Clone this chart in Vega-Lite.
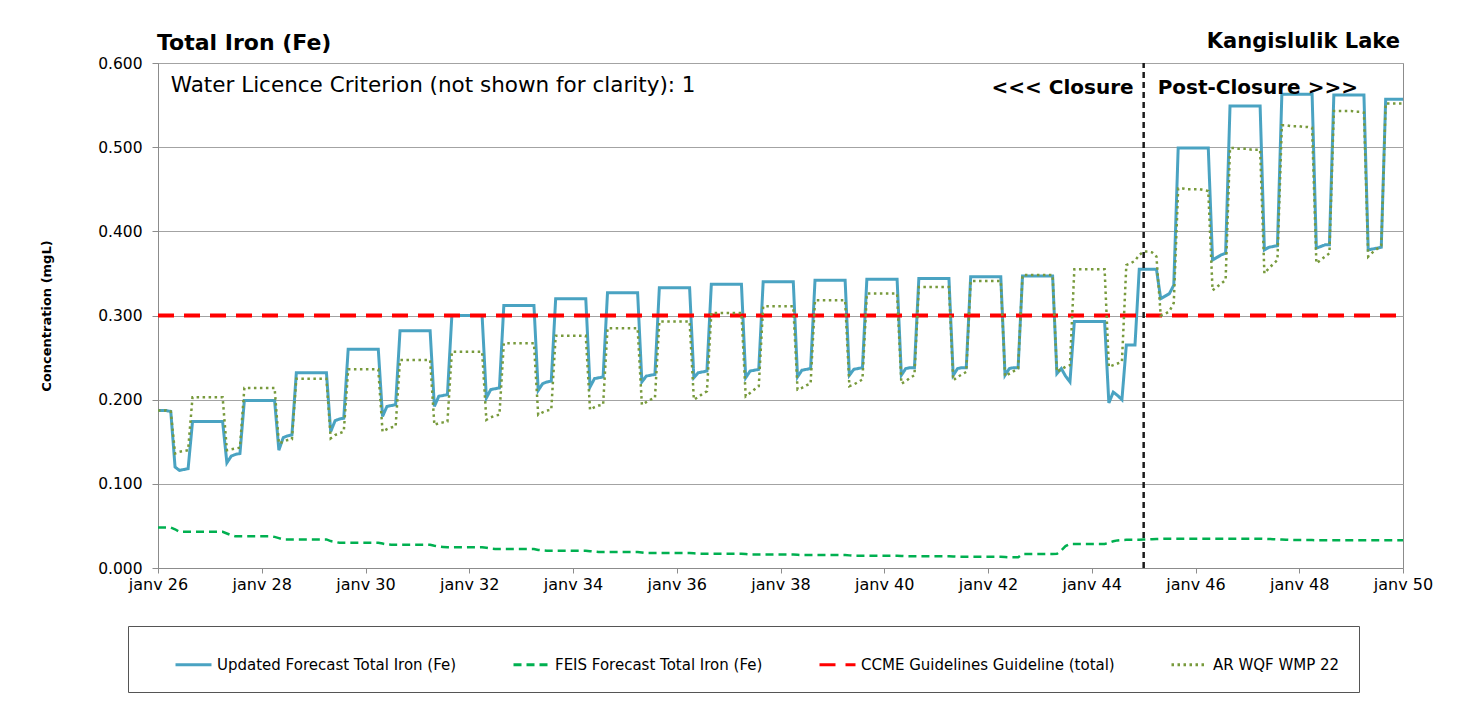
{
"$schema": "https://vega.github.io/schema/vega-lite/v6.json",
"width": 1245, "height": 505,
"autosize": {"type": "none"},
"padding": {"left": 158, "top": 63, "right": 54, "bottom": 145},
"background": "white",
"config": {"font": "DejaVu Sans", "view": {"stroke": "#8c8c8c", "strokeWidth": 1}},
"data": {"values": [
{"d":"2026-01-01","u":0.187,"a":0.187,"f":0.048},
{"d":"2026-02-01","u":0.187,"a":0.187,"f":0.048},
{"d":"2026-03-01","u":0.187,"a":0.187,"f":0.048},
{"d":"2026-04-01","u":0.186,"a":0.186,"f":0.048},
{"d":"2026-05-01","u":0.120,"a":0.136,"f":0.046},
{"d":"2026-06-01","u":0.116,"a":0.138,"f":0.043},
{"d":"2026-07-01","u":0.117,"a":0.139,"f":0.043},
{"d":"2026-08-01","u":0.118,"a":0.140,"f":0.043},
{"d":"2026-09-01","u":0.174,"a":0.203,"f":0.043},
{"d":"2026-10-01","u":0.174,"a":0.203,"f":0.043},
{"d":"2026-11-01","u":0.174,"a":0.203,"f":0.043},
{"d":"2026-12-01","u":0.174,"a":0.203,"f":0.043},
{"d":"2027-01-01","u":0.174,"a":0.203,"f":0.043},
{"d":"2027-02-01","u":0.174,"a":0.203,"f":0.043},
{"d":"2027-03-01","u":0.174,"a":0.203,"f":0.043},
{"d":"2027-04-01","u":0.174,"a":0.203,"f":0.043},
{"d":"2027-05-01","u":0.125,"a":0.140,"f":0.041},
{"d":"2027-06-01","u":0.133,"a":0.141,"f":0.039},
{"d":"2027-07-01","u":0.135,"a":0.142,"f":0.0376},
{"d":"2027-08-01","u":0.136,"a":0.143,"f":0.0376},
{"d":"2027-09-01","u":0.199,"a":0.214,"f":0.0376},
{"d":"2027-10-01","u":0.199,"a":0.214,"f":0.0376},
{"d":"2027-11-01","u":0.199,"a":0.214,"f":0.0376},
{"d":"2027-12-01","u":0.199,"a":0.214,"f":0.0376},
{"d":"2028-01-01","u":0.199,"a":0.214,"f":0.0376},
{"d":"2028-02-01","u":0.199,"a":0.214,"f":0.0376},
{"d":"2028-03-01","u":0.199,"a":0.214,"f":0.0376},
{"d":"2028-04-01","u":0.199,"a":0.214,"f":0.037},
{"d":"2028-05-01","u":0.140,"a":0.148,"f":0.0355},
{"d":"2028-06-01","u":0.155,"a":0.150,"f":0.034},
{"d":"2028-07-01","u":0.157,"a":0.152,"f":0.034},
{"d":"2028-08-01","u":0.158,"a":0.153,"f":0.034},
{"d":"2028-09-01","u":0.232,"a":0.225,"f":0.034},
{"d":"2028-10-01","u":0.232,"a":0.225,"f":0.034},
{"d":"2028-11-01","u":0.232,"a":0.225,"f":0.034},
{"d":"2028-12-01","u":0.232,"a":0.225,"f":0.034},
{"d":"2029-01-01","u":0.232,"a":0.225,"f":0.034},
{"d":"2029-02-01","u":0.232,"a":0.225,"f":0.034},
{"d":"2029-03-01","u":0.232,"a":0.225,"f":0.034},
{"d":"2029-04-01","u":0.232,"a":0.225,"f":0.034},
{"d":"2029-05-01","u":0.162,"a":0.154,"f":0.032},
{"d":"2029-06-01","u":0.175,"a":0.158,"f":0.031},
{"d":"2029-07-01","u":0.177,"a":0.160,"f":0.030},
{"d":"2029-08-01","u":0.178,"a":0.162,"f":0.030},
{"d":"2029-09-01","u":0.260,"a":0.236,"f":0.030},
{"d":"2029-10-01","u":0.260,"a":0.236,"f":0.030},
{"d":"2029-11-01","u":0.260,"a":0.236,"f":0.030},
{"d":"2029-12-01","u":0.260,"a":0.236,"f":0.030},
{"d":"2030-01-01","u":0.260,"a":0.236,"f":0.030},
{"d":"2030-02-01","u":0.260,"a":0.236,"f":0.030},
{"d":"2030-03-01","u":0.260,"a":0.236,"f":0.030},
{"d":"2030-04-01","u":0.260,"a":0.236,"f":0.030},
{"d":"2030-05-01","u":0.180,"a":0.162,"f":0.029},
{"d":"2030-06-01","u":0.192,"a":0.165,"f":0.028},
{"d":"2030-07-01","u":0.193,"a":0.167,"f":0.0277},
{"d":"2030-08-01","u":0.194,"a":0.168,"f":0.0277},
{"d":"2030-09-01","u":0.282,"a":0.247,"f":0.0277},
{"d":"2030-10-01","u":0.282,"a":0.247,"f":0.0277},
{"d":"2030-11-01","u":0.282,"a":0.247,"f":0.0277},
{"d":"2030-12-01","u":0.282,"a":0.247,"f":0.0277},
{"d":"2031-01-01","u":0.282,"a":0.247,"f":0.0277},
{"d":"2031-02-01","u":0.282,"a":0.247,"f":0.0277},
{"d":"2031-03-01","u":0.282,"a":0.247,"f":0.0277},
{"d":"2031-04-01","u":0.282,"a":0.247,"f":0.0277},
{"d":"2031-05-01","u":0.192,"a":0.170,"f":0.0265},
{"d":"2031-06-01","u":0.204,"a":0.172,"f":0.0255},
{"d":"2031-07-01","u":0.205,"a":0.173,"f":0.025},
{"d":"2031-08-01","u":0.206,"a":0.174,"f":0.0246},
{"d":"2031-09-01","u":0.300,"a":0.257,"f":0.0246},
{"d":"2031-10-01","u":0.300,"a":0.257,"f":0.0246},
{"d":"2031-11-01","u":0.300,"a":0.257,"f":0.0246},
{"d":"2031-12-01","u":0.300,"a":0.257,"f":0.0246},
{"d":"2032-01-01","u":0.300,"a":0.257,"f":0.0246},
{"d":"2032-02-01","u":0.300,"a":0.257,"f":0.0246},
{"d":"2032-03-01","u":0.300,"a":0.257,"f":0.0246},
{"d":"2032-04-01","u":0.300,"a":0.257,"f":0.0246},
{"d":"2032-05-01","u":0.202,"a":0.176,"f":0.024},
{"d":"2032-06-01","u":0.212,"a":0.179,"f":0.023},
{"d":"2032-07-01","u":0.213,"a":0.181,"f":0.0226},
{"d":"2032-08-01","u":0.214,"a":0.182,"f":0.0226},
{"d":"2032-09-01","u":0.312,"a":0.267,"f":0.0226},
{"d":"2032-10-01","u":0.312,"a":0.267,"f":0.0226},
{"d":"2032-11-01","u":0.312,"a":0.267,"f":0.0226},
{"d":"2032-12-01","u":0.312,"a":0.267,"f":0.0226},
{"d":"2033-01-01","u":0.312,"a":0.267,"f":0.0226},
{"d":"2033-02-01","u":0.312,"a":0.267,"f":0.0226},
{"d":"2033-03-01","u":0.312,"a":0.267,"f":0.0226},
{"d":"2033-04-01","u":0.312,"a":0.267,"f":0.0226},
{"d":"2033-05-01","u":0.211,"a":0.182,"f":0.0215},
{"d":"2033-06-01","u":0.219,"a":0.185,"f":0.021},
{"d":"2033-07-01","u":0.221,"a":0.187,"f":0.0206},
{"d":"2033-08-01","u":0.222,"a":0.188,"f":0.0206},
{"d":"2033-09-01","u":0.320,"a":0.276,"f":0.0206},
{"d":"2033-10-01","u":0.320,"a":0.276,"f":0.0206},
{"d":"2033-11-01","u":0.320,"a":0.276,"f":0.0206},
{"d":"2033-12-01","u":0.320,"a":0.276,"f":0.0206},
{"d":"2034-01-01","u":0.320,"a":0.276,"f":0.0206},
{"d":"2034-02-01","u":0.320,"a":0.276,"f":0.0206},
{"d":"2034-03-01","u":0.320,"a":0.276,"f":0.0206},
{"d":"2034-04-01","u":0.320,"a":0.276,"f":0.0206},
{"d":"2034-05-01","u":0.215,"a":0.188,"f":0.020},
{"d":"2034-06-01","u":0.225,"a":0.191,"f":0.0195},
{"d":"2034-07-01","u":0.226,"a":0.193,"f":0.019},
{"d":"2034-08-01","u":0.227,"a":0.194,"f":0.019},
{"d":"2034-09-01","u":0.327,"a":0.285,"f":0.019},
{"d":"2034-10-01","u":0.327,"a":0.285,"f":0.019},
{"d":"2034-11-01","u":0.327,"a":0.285,"f":0.019},
{"d":"2034-12-01","u":0.327,"a":0.285,"f":0.019},
{"d":"2035-01-01","u":0.327,"a":0.285,"f":0.019},
{"d":"2035-02-01","u":0.327,"a":0.285,"f":0.019},
{"d":"2035-03-01","u":0.327,"a":0.285,"f":0.019},
{"d":"2035-04-01","u":0.327,"a":0.285,"f":0.019},
{"d":"2035-05-01","u":0.221,"a":0.194,"f":0.0185},
{"d":"2035-06-01","u":0.228,"a":0.197,"f":0.0178},
{"d":"2035-07-01","u":0.229,"a":0.200,"f":0.0178},
{"d":"2035-08-01","u":0.230,"a":0.202,"f":0.0178},
{"d":"2035-09-01","u":0.333,"a":0.293,"f":0.0178},
{"d":"2035-10-01","u":0.333,"a":0.293,"f":0.0178},
{"d":"2035-11-01","u":0.333,"a":0.293,"f":0.0178},
{"d":"2035-12-01","u":0.333,"a":0.293,"f":0.0178},
{"d":"2036-01-01","u":0.333,"a":0.293,"f":0.0178},
{"d":"2036-02-01","u":0.333,"a":0.293,"f":0.0178},
{"d":"2036-03-01","u":0.333,"a":0.293,"f":0.0178},
{"d":"2036-04-01","u":0.333,"a":0.293,"f":0.0178},
{"d":"2036-05-01","u":0.226,"a":0.200,"f":0.0174},
{"d":"2036-06-01","u":0.232,"a":0.203,"f":0.017},
{"d":"2036-07-01","u":0.233,"a":0.207,"f":0.017},
{"d":"2036-08-01","u":0.234,"a":0.210,"f":0.017},
{"d":"2036-09-01","u":0.337,"a":0.303,"f":0.017},
{"d":"2036-10-01","u":0.337,"a":0.303,"f":0.017},
{"d":"2036-11-01","u":0.337,"a":0.303,"f":0.017},
{"d":"2036-12-01","u":0.337,"a":0.303,"f":0.017},
{"d":"2037-01-01","u":0.337,"a":0.303,"f":0.017},
{"d":"2037-02-01","u":0.337,"a":0.303,"f":0.017},
{"d":"2037-03-01","u":0.337,"a":0.303,"f":0.017},
{"d":"2037-04-01","u":0.337,"a":0.303,"f":0.017},
{"d":"2037-05-01","u":0.226,"a":0.204,"f":0.0165},
{"d":"2037-06-01","u":0.234,"a":0.208,"f":0.016},
{"d":"2037-07-01","u":0.235,"a":0.212,"f":0.016},
{"d":"2037-08-01","u":0.236,"a":0.216,"f":0.016},
{"d":"2037-09-01","u":0.340,"a":0.311,"f":0.016},
{"d":"2037-10-01","u":0.340,"a":0.311,"f":0.016},
{"d":"2037-11-01","u":0.340,"a":0.311,"f":0.016},
{"d":"2037-12-01","u":0.340,"a":0.311,"f":0.016},
{"d":"2038-01-01","u":0.340,"a":0.311,"f":0.016},
{"d":"2038-02-01","u":0.340,"a":0.311,"f":0.016},
{"d":"2038-03-01","u":0.340,"a":0.311,"f":0.016},
{"d":"2038-04-01","u":0.340,"a":0.311,"f":0.016},
{"d":"2038-05-01","u":0.227,"a":0.212,"f":0.0156},
{"d":"2038-06-01","u":0.235,"a":0.214,"f":0.0153},
{"d":"2038-07-01","u":0.236,"a":0.217,"f":0.0153},
{"d":"2038-08-01","u":0.237,"a":0.219,"f":0.0153},
{"d":"2038-09-01","u":0.342,"a":0.318,"f":0.0153},
{"d":"2038-10-01","u":0.342,"a":0.318,"f":0.0153},
{"d":"2038-11-01","u":0.342,"a":0.318,"f":0.0153},
{"d":"2038-12-01","u":0.342,"a":0.318,"f":0.0153},
{"d":"2039-01-01","u":0.342,"a":0.318,"f":0.0153},
{"d":"2039-02-01","u":0.342,"a":0.318,"f":0.0153},
{"d":"2039-03-01","u":0.342,"a":0.318,"f":0.0153},
{"d":"2039-04-01","u":0.342,"a":0.318,"f":0.0153},
{"d":"2039-05-01","u":0.229,"a":0.216,"f":0.015},
{"d":"2039-06-01","u":0.236,"a":0.218,"f":0.0146},
{"d":"2039-07-01","u":0.237,"a":0.221,"f":0.0146},
{"d":"2039-08-01","u":0.238,"a":0.224,"f":0.0146},
{"d":"2039-09-01","u":0.343,"a":0.326,"f":0.0146},
{"d":"2039-10-01","u":0.343,"a":0.326,"f":0.0146},
{"d":"2039-11-01","u":0.343,"a":0.326,"f":0.0146},
{"d":"2039-12-01","u":0.343,"a":0.326,"f":0.0146},
{"d":"2040-01-01","u":0.343,"a":0.326,"f":0.0146},
{"d":"2040-02-01","u":0.343,"a":0.326,"f":0.0146},
{"d":"2040-03-01","u":0.343,"a":0.326,"f":0.0146},
{"d":"2040-04-01","u":0.343,"a":0.326,"f":0.0146},
{"d":"2040-05-01","u":0.229,"a":0.219,"f":0.0143},
{"d":"2040-06-01","u":0.237,"a":0.222,"f":0.014},
{"d":"2040-07-01","u":0.238,"a":0.226,"f":0.014},
{"d":"2040-08-01","u":0.238,"a":0.229,"f":0.014},
{"d":"2040-09-01","u":0.344,"a":0.334,"f":0.014},
{"d":"2040-10-01","u":0.344,"a":0.334,"f":0.014},
{"d":"2040-11-01","u":0.344,"a":0.334,"f":0.014},
{"d":"2040-12-01","u":0.344,"a":0.334,"f":0.014},
{"d":"2041-01-01","u":0.344,"a":0.334,"f":0.014},
{"d":"2041-02-01","u":0.344,"a":0.334,"f":0.014},
{"d":"2041-03-01","u":0.344,"a":0.334,"f":0.014},
{"d":"2041-04-01","u":0.344,"a":0.334,"f":0.014},
{"d":"2041-05-01","u":0.229,"a":0.223,"f":0.0137},
{"d":"2041-06-01","u":0.237,"a":0.227,"f":0.0134},
{"d":"2041-07-01","u":0.238,"a":0.230,"f":0.0134},
{"d":"2041-08-01","u":0.238,"a":0.233,"f":0.0134},
{"d":"2041-09-01","u":0.346,"a":0.341,"f":0.0134},
{"d":"2041-10-01","u":0.346,"a":0.341,"f":0.0134},
{"d":"2041-11-01","u":0.346,"a":0.341,"f":0.0134},
{"d":"2041-12-01","u":0.346,"a":0.341,"f":0.0134},
{"d":"2042-01-01","u":0.346,"a":0.341,"f":0.0134},
{"d":"2042-02-01","u":0.346,"a":0.341,"f":0.0134},
{"d":"2042-03-01","u":0.346,"a":0.341,"f":0.0134},
{"d":"2042-04-01","u":0.346,"a":0.341,"f":0.0134},
{"d":"2042-05-01","u":0.229,"a":0.228,"f":0.013},
{"d":"2042-06-01","u":0.237,"a":0.231,"f":0.0127},
{"d":"2042-07-01","u":0.238,"a":0.234,"f":0.0127},
{"d":"2042-08-01","u":0.238,"a":0.237,"f":0.0127},
{"d":"2042-09-01","u":0.347,"a":0.348,"f":0.0166},
{"d":"2042-10-01","u":0.347,"a":0.348,"f":0.0166},
{"d":"2042-11-01","u":0.347,"a":0.348,"f":0.0166},
{"d":"2042-12-01","u":0.347,"a":0.348,"f":0.0166},
{"d":"2043-01-01","u":0.347,"a":0.348,"f":0.0166},
{"d":"2043-02-01","u":0.347,"a":0.348,"f":0.0166},
{"d":"2043-03-01","u":0.347,"a":0.348,"f":0.0166},
{"d":"2043-04-01","u":0.347,"a":0.348,"f":0.0166},
{"d":"2043-05-01","u":0.231,"a":0.233,"f":0.0168},
{"d":"2043-06-01","u":0.237,"a":0.236,"f":0.021},
{"d":"2043-07-01","u":0.228,"a":0.239,"f":0.026},
{"d":"2043-08-01","u":0.221,"a":0.241,"f":0.0285},
{"d":"2043-09-01","u":0.293,"a":0.355,"f":0.0285},
{"d":"2043-10-01","u":0.293,"a":0.355,"f":0.0285},
{"d":"2043-11-01","u":0.293,"a":0.355,"f":0.0285},
{"d":"2043-12-01","u":0.293,"a":0.355,"f":0.0285},
{"d":"2044-01-01","u":0.293,"a":0.355,"f":0.0285},
{"d":"2044-02-01","u":0.293,"a":0.355,"f":0.0285},
{"d":"2044-03-01","u":0.293,"a":0.355,"f":0.0285},
{"d":"2044-04-01","u":0.293,"a":0.355,"f":0.0285},
{"d":"2044-05-01","u":0.196,"a":0.239,"f":0.030},
{"d":"2044-06-01","u":0.209,"a":0.241,"f":0.0318},
{"d":"2044-07-01","u":0.205,"a":0.243,"f":0.0328},
{"d":"2044-08-01","u":0.200,"a":0.245,"f":0.0333},
{"d":"2044-09-01","u":0.265,"a":0.360,"f":0.0335},
{"d":"2044-10-01","u":0.265,"a":0.362,"f":0.0335},
{"d":"2044-11-01","u":0.265,"a":0.365,"f":0.0335},
{"d":"2044-12-01","u":0.355,"a":0.372,"f":0.0335},
{"d":"2045-01-01","u":0.355,"a":0.376,"f":0.0338},
{"d":"2045-02-01","u":0.355,"a":0.376,"f":0.034},
{"d":"2045-03-01","u":0.355,"a":0.375,"f":0.0342},
{"d":"2045-04-01","u":0.355,"a":0.370,"f":0.0344},
{"d":"2045-05-01","u":0.320,"a":0.300,"f":0.0346},
{"d":"2045-06-01","u":0.323,"a":0.302,"f":0.0348},
{"d":"2045-07-01","u":0.326,"a":0.305,"f":0.0348},
{"d":"2045-08-01","u":0.336,"a":0.315,"f":0.0348},
{"d":"2045-09-01","u":0.499,"a":0.451,"f":0.0348},
{"d":"2045-10-01","u":0.499,"a":0.451,"f":0.0348},
{"d":"2045-11-01","u":0.499,"a":0.450,"f":0.0348},
{"d":"2045-12-01","u":0.499,"a":0.450,"f":0.0348},
{"d":"2046-01-01","u":0.499,"a":0.450,"f":0.0349},
{"d":"2046-02-01","u":0.499,"a":0.450,"f":0.0349},
{"d":"2046-03-01","u":0.499,"a":0.449,"f":0.0349},
{"d":"2046-04-01","u":0.499,"a":0.448,"f":0.0349},
{"d":"2046-05-01","u":0.366,"a":0.330,"f":0.0349},
{"d":"2046-06-01","u":0.369,"a":0.334,"f":0.0349},
{"d":"2046-07-01","u":0.372,"a":0.338,"f":0.0349},
{"d":"2046-08-01","u":0.374,"a":0.342,"f":0.0349},
{"d":"2046-09-01","u":0.549,"a":0.499,"f":0.0349},
{"d":"2046-10-01","u":0.549,"a":0.499,"f":0.0349},
{"d":"2046-11-01","u":0.549,"a":0.498,"f":0.0349},
{"d":"2046-12-01","u":0.549,"a":0.498,"f":0.0349},
{"d":"2047-01-01","u":0.549,"a":0.498,"f":0.0349},
{"d":"2047-02-01","u":0.549,"a":0.497,"f":0.0349},
{"d":"2047-03-01","u":0.549,"a":0.497,"f":0.0349},
{"d":"2047-04-01","u":0.549,"a":0.497,"f":0.0349},
{"d":"2047-05-01","u":0.378,"a":0.350,"f":0.0347},
{"d":"2047-06-01","u":0.381,"a":0.356,"f":0.0345},
{"d":"2047-07-01","u":0.382,"a":0.361,"f":0.0343},
{"d":"2047-08-01","u":0.383,"a":0.366,"f":0.034},
{"d":"2047-09-01","u":0.563,"a":0.526,"f":0.0338},
{"d":"2047-10-01","u":0.563,"a":0.526,"f":0.0336},
{"d":"2047-11-01","u":0.563,"a":0.525,"f":0.0334},
{"d":"2047-12-01","u":0.563,"a":0.525,"f":0.0333},
{"d":"2048-01-01","u":0.563,"a":0.525,"f":0.0332},
{"d":"2048-02-01","u":0.563,"a":0.524,"f":0.0332},
{"d":"2048-03-01","u":0.563,"a":0.524,"f":0.0332},
{"d":"2048-04-01","u":0.563,"a":0.523,"f":0.0332},
{"d":"2048-05-01","u":0.380,"a":0.362,"f":0.033},
{"d":"2048-06-01","u":0.382,"a":0.366,"f":0.033},
{"d":"2048-07-01","u":0.384,"a":0.370,"f":0.033},
{"d":"2048-08-01","u":0.384,"a":0.374,"f":0.033},
{"d":"2048-09-01","u":0.562,"a":0.543,"f":0.033},
{"d":"2048-10-01","u":0.562,"a":0.543,"f":0.033},
{"d":"2048-11-01","u":0.562,"a":0.543,"f":0.033},
{"d":"2048-12-01","u":0.562,"a":0.543,"f":0.033},
{"d":"2049-01-01","u":0.562,"a":0.543,"f":0.033},
{"d":"2049-02-01","u":0.562,"a":0.542,"f":0.033},
{"d":"2049-03-01","u":0.562,"a":0.542,"f":0.033},
{"d":"2049-04-01","u":0.562,"a":0.541,"f":0.033},
{"d":"2049-05-01","u":0.378,"a":0.370,"f":0.033},
{"d":"2049-06-01","u":0.379,"a":0.375,"f":0.033},
{"d":"2049-07-01","u":0.380,"a":0.379,"f":0.033},
{"d":"2049-08-01","u":0.381,"a":0.383,"f":0.033},
{"d":"2049-09-01","u":0.557,"a":0.552,"f":0.033},
{"d":"2049-10-01","u":0.557,"a":0.552,"f":0.033},
{"d":"2049-11-01","u":0.557,"a":0.552,"f":0.033},
{"d":"2049-12-01","u":0.557,"a":0.552,"f":0.033},
{"d":"2050-01-01","u":0.557,"a":0.552,"f":0.0329}
]},
"encoding": {
  "x": {"field": "d", "type": "temporal",
        "scale": {"type": "utc", "domain": [{"year": 2026, "month": 1, "date": 1, "utc": true}, {"year": 2050, "month": 1, "date": 1, "utc": true}]},
        "axis": {"title": null, "grid": false, "tickCount": {"interval": "year", "step": 2},
                 "labelExpr": "'janv ' + utcFormat(datum.value, '%y')",
                 "labelFontSize": 16, "labelColor": "black", "labelPadding": 3, "labelFlush": false, "labelOverlap": false,
                 "tickSize": 5, "tickColor": "#8c8c8c", "domainColor": "#8c8c8c"}},
  "y": {"field": "v", "type": "quantitative",
        "scale": {"domain": [0, 0.6], "nice": false, "zero": true},
        "axis": {"title": "Concentration (mgL)", "titleFontSize": 13, "titleFontWeight": "bold", "titleColor": "black", "titlePadding": 44,
                 "values": [0, 0.1, 0.2, 0.3, 0.4, 0.5, 0.6], "format": ".3f",
                 "labelFontSize": 15.5, "labelColor": "black", "labelPadding": 10,
                 "tickSize": 6, "tickColor": "#8c8c8c", "domainColor": "#8c8c8c", "gridColor": "#a3a3a3", "gridWidth": 1}}
},
"layer": [
  {
    "encoding": {
      "color": {"field": "s", "type": "nominal",
        "scale": {"domain": ["u", "f", "c", "a"], "range": ["#4aa3c2", "#00b050", "#ff0000", "#789a3c"]},
        "legend": {"orient": "none", "legendX": -30, "legendY": 563, "direction": "horizontal",
                   "title": " ", "titleOrient": "left", "titlePadding": 27, "titleFontSize": 15,
                   "symbolType": "stroke", "symbolSize": 1296, "symbolStrokeWidth": 3,
                   "labelFontSize": 15, "labelColor": "black", "labelLimit": 500, "labelOffset": 4,
                   "columnPadding": 50, "padding": 19, "strokeColor": "#555555", "fillColor": "white",
                   "labelExpr": "datum.label == 'u' ? 'Updated Forecast Total Iron (Fe)' : datum.label == 'f' ? 'FEIS Forecast Total Iron (Fe)' : datum.label == 'c' ? 'CCME Guidelines Guideline (total)' : 'AR WQF WMP 22'"}},
      "strokeDash": {"field": "s", "type": "nominal",
        "scale": {"domain": ["u", "f", "c", "a"], "range": [[1, 0], [8, 5], [16, 10], [2.5, 3.5]]}}
    },
    "layer": [
      {"transform": [{"fold": ["u"], "as": ["s", "v"]}], "mark": {"type": "line", "strokeWidth": 3, "interpolate": "linear"}},
      {"transform": [{"fold": ["f"], "as": ["s", "v"]}], "mark": {"type": "line", "strokeWidth": 2.5}},
      {"data": {"values": [{"d": "2026-01-01", "s": "c", "v": 0.3}, {"d": "2050-01-01", "s": "c", "v": 0.3}]},
       "mark": {"type": "line", "strokeWidth": 4}},
      {"transform": [{"fold": ["a"], "as": ["s", "v"]}], "mark": {"type": "line", "strokeWidth": 2.5}}
    ]
  },
  {
    "data": {"values": [{"d": "2045-01-01", "v": 0, "v2": 0.6}]},
    "mark": {"type": "rule", "color": "#1a1a1a", "strokeWidth": 2.5, "strokeDash": [6, 4]},
    "encoding": {"y2": {"field": "v2"}}
  },
  {
    "data": {"values": [{"d": "2026-04-01", "v": 0.574, "t": "Water Licence Criterion (not shown for clarity): 1"}]},
    "mark": {"type": "text", "align": "left", "baseline": "middle", "fontSize": 21.5, "color": "black", "dy": 1},
    "encoding": {"text": {"field": "t"}}
  },
  {
    "data": {"values": [{"d": "2045-01-01", "v": 0.571, "t": "<<< Closure"}]},
    "mark": {"type": "text", "align": "right", "baseline": "middle", "fontSize": 20, "fontWeight": "bold", "color": "black", "dx": -10, "dy": 1},
    "encoding": {"text": {"field": "t"}}
  },
  {
    "data": {"values": [{"d": "2045-01-01", "v": 0.571, "t": "Post-Closure >>>"}]},
    "mark": {"type": "text", "align": "left", "baseline": "middle", "fontSize": 20, "fontWeight": "bold", "color": "black", "dx": 14, "dy": 1},
    "encoding": {"text": {"field": "t"}}
  },
  {
    "data": {"values": [{"d": "2026-01-01", "v": 0.6, "t": "Total Iron (Fe)"}]},
    "mark": {"type": "text", "align": "left", "baseline": "alphabetic", "fontSize": 22, "fontWeight": "bold", "color": "black", "dx": -1, "dy": -13},
    "encoding": {"text": {"field": "t"}}
  },
  {
    "data": {"values": [{"d": "2050-01-01", "v": 0.6, "t": "Kangislulik Lake"}]},
    "mark": {"type": "text", "align": "right", "baseline": "alphabetic", "fontSize": 21, "fontWeight": "bold", "color": "black", "dx": -3, "dy": -15},
    "encoding": {"text": {"field": "t"}}
  }
]
}
